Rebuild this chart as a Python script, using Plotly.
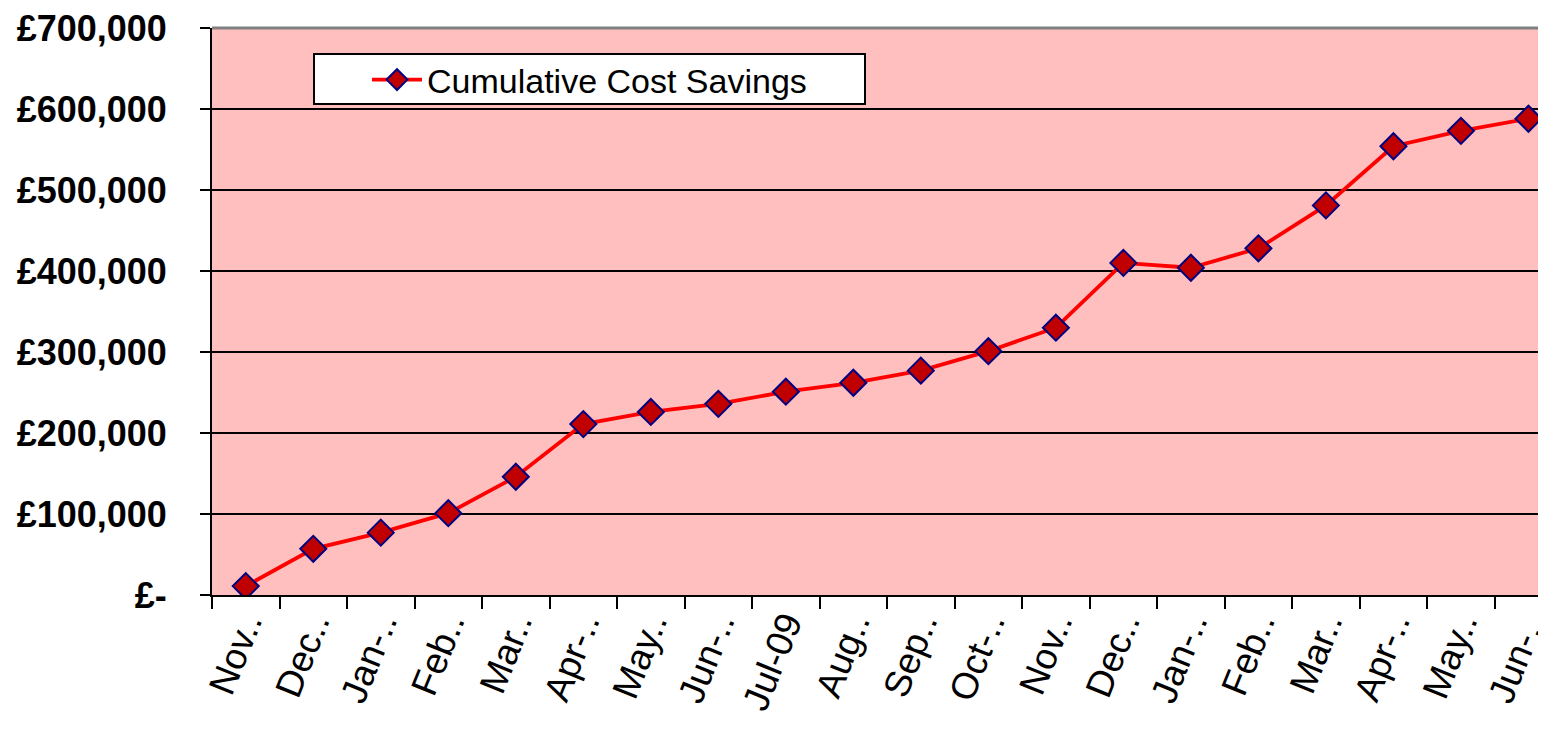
import plotly.graph_objects as go

months = ["Nov-08", "Dec-08", "Jan-09", "Feb-09", "Mar-09", "Apr-09", "May-09",
          "Jun-09", "Jul-09", "Aug-09", "Sep-09", "Oct-09", "Nov-09", "Dec-09",
          "Jan-10", "Feb-10", "Mar-10", "Apr-10", "May-10", "Jun-10"]
tick_labels = ["Nov..", "Dec..", "Jan-..", "Feb..", "Mar..", "Apr-..", "May..",
               "Jun-..", "Jul-09", "Aug..", "Sep..", "Oct-..", "Nov..", "Dec..",
               "Jan-..", "Feb..", "Mar..", "Apr-..", "May..", "Jun-.."]
savings = [11000, 57000, 77000, 101000, 146000, 211000, 226000, 236000, 251000,
           262000, 277000, 301000, 330000, 410000, 404000, 428000, 481000,
           554000, 573000, 588000]
y_ticks = [0, 100000, 200000, 300000, 400000, 500000, 600000, 700000]
y_tick_text = ["£-", "£100,000", "£200,000", "£300,000", "£400,000",
               "£500,000", "£600,000", "£700,000"]

# page body has an 8px default margin; work in figure coordinates
OFF = 8
W, H = 1546 - OFF, 729 - OFF
L, R, T, B = 212 - OFF, 0, 28 - OFF, 729 - 595
pw, ph = W - L - R, H - T - B

def px_x(x):
    return (x - OFF - L) / pw

def px_y(y):
    return (H - B - (y - OFF)) / ph

fig = go.Figure()
fig.add_trace(go.Scatter(
    x=months, y=savings, mode="lines+markers", name="Cumulative Cost Savings",
    line=dict(color="#FF0000", width=3.8),
    marker=dict(symbol="diamond", size=20, color="#C00000",
                line=dict(color="#000080", width=2)),
))

fig.update_layout(
    width=W, height=H,
    margin=dict(l=L, r=R, t=T, b=B, autoexpand=False),
    paper_bgcolor="white", plot_bgcolor="#FFBFBF",
    font=dict(family="Liberation Sans, Arial", color="black"),
    showlegend=True,
    legend=dict(x=px_x(367), y=px_y(80), xanchor="left", yanchor="middle",
                bgcolor="rgba(0,0,0,0)", borderwidth=0,
                font=dict(size=34, family="Liberation Sans, Arial"),
                itemwidth=50),
    xaxis=dict(type="category", range=[-0.5, 19.26], automargin=False,
               tickmode="array", tickvals=months, ticktext=tick_labels,
               tickangle=-68, tickson="boundaries", ticks="outside",
               ticklen=12, tickwidth=2, tickcolor="black",
               ticklabelstandoff=-10, ticklabeloverflow="allow",
               showline=True, linecolor="black", linewidth=2,
               showgrid=False, tickfont=dict(size=37)),
    yaxis=dict(range=[0, 700000], tickmode="array", tickvals=y_ticks,
               ticktext=y_tick_text, ticks="outside", ticklen=10,
               tickwidth=2, tickcolor="black", ticklabelstandoff=26,
               ticklabeloverflow="allow", automargin=False,
               showline=True, linecolor="black", linewidth=2,
               showgrid=True, gridcolor="black", gridwidth=2,
               zeroline=False,
               tickfont=dict(size=36, family="Liberation Sans, Arial",
                             weight="bold")),
)
fig.add_shape(type="line", xref="paper", yref="paper", x0=0, x1=1, y0=1, y1=1,
              line=dict(color="#808080", width=3), layer="above")
fig.add_shape(type="rect", xref="paper", yref="paper",
              x0=px_x(314), x1=px_x(865), y0=px_y(104), y1=px_y(54),
              fillcolor="white", line=dict(color="black", width=2),
              layer="below")

fig.write_html("out.html")
